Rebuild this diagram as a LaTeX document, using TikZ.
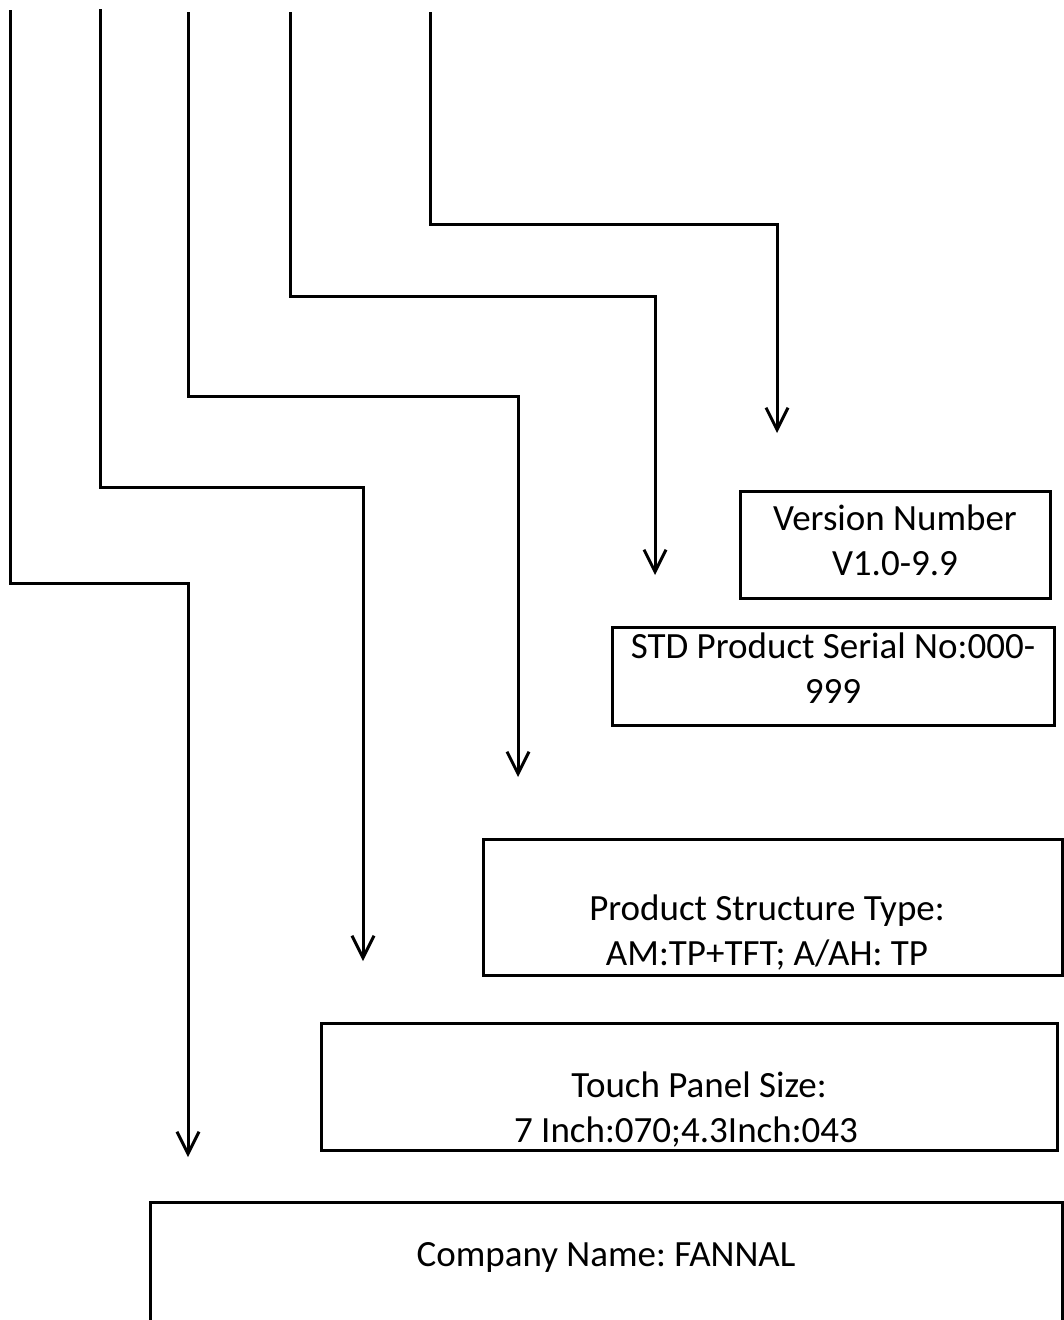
\documentclass[tikz,border=0pt]{standalone}
\usepackage{fontspec}
\setmainfont{Carlito}
\usepackage{tikz}
\usetikzlibrary{arrows.meta}
\frenchspacing
\tikzset{>={Straight Barb[length=22pt, width=22pt]},
    field/.style={draw=black, line width=3pt, rectangle, inner sep=0pt},
    lead/.style={draw=black, line width=3pt}}

\begin{document}
\begin{tikzpicture}[x=1pt, y=-1pt,
      caption/.style={align=center, font=\fontsize{37}{45}\selectfont}]
  \useasboundingbox (0,0) rectangle (1064,1320);
  \clip (0,0) rectangle (1064,1320);
  % Boxes
  \node[field, minimum width=310pt, minimum height=107pt] (ver) at (895,544.5) {};
  \node[field, minimum width=442pt, minimum height=98pt] (std) at (833,676) {};
  \node[field, minimum width=579pt, minimum height=136pt] (pst) at (772.5,907) {};
  \node[field, minimum width=736pt, minimum height=127pt] (tps) at (689,1086.5) {};
  \node[field, minimum width=912pt, minimum height=140pt] (com) at (606,1272) {};
  % Texts
  \node[caption] (vertxt) at (895,540) {Version Number\\V1.0-9.9};
  \node[caption] (stdtxt) at (833,668) {STD Product Serial No:000-\\999};
  \node[caption] (psttxt) at (767,933) {Product Structure Type:\\AM:TP+TFT; A/AH: TP};
  \node[caption] (tpstxt) at (686,1110) {\hspace*{26pt}Touch Panel Size:\\7 Inch:070;4.3Inch:043};
  \node[caption] (comtxt) at (606,1257) {Company Name: FANNAL};
  % Lead lines
  \coordinate (t1) at (10,10);   \coordinate (b1) at (188,583);  \coordinate (a1) at (188,1157);
  \coordinate (t2) at (100,9);   \coordinate (b2) at (363,487);  \coordinate (a2) at (363,961);
  \coordinate (t3) at (188,12);  \coordinate (b3) at (518,396);  \coordinate (a3) at (518,777);
  \coordinate (t4) at (290,12);  \coordinate (b4) at (655,296);  \coordinate (a4) at (655,575);
  \coordinate (t5) at (430,12);  \coordinate (b5) at (777,224);  \coordinate (a5) at (777,433);
  \draw[lead, ->] (t1) |- (b1) -- (a1);
  \draw[lead, ->] (t2) |- (b2) -- (a2);
  \draw[lead, ->] (t3) |- (b3) -- (a3);
  \draw[lead, ->] (t4) |- (b4) -- (a4);
  \draw[lead, ->] (t5) |- (b5) -- (a5);
\end{tikzpicture}
\end{document}
